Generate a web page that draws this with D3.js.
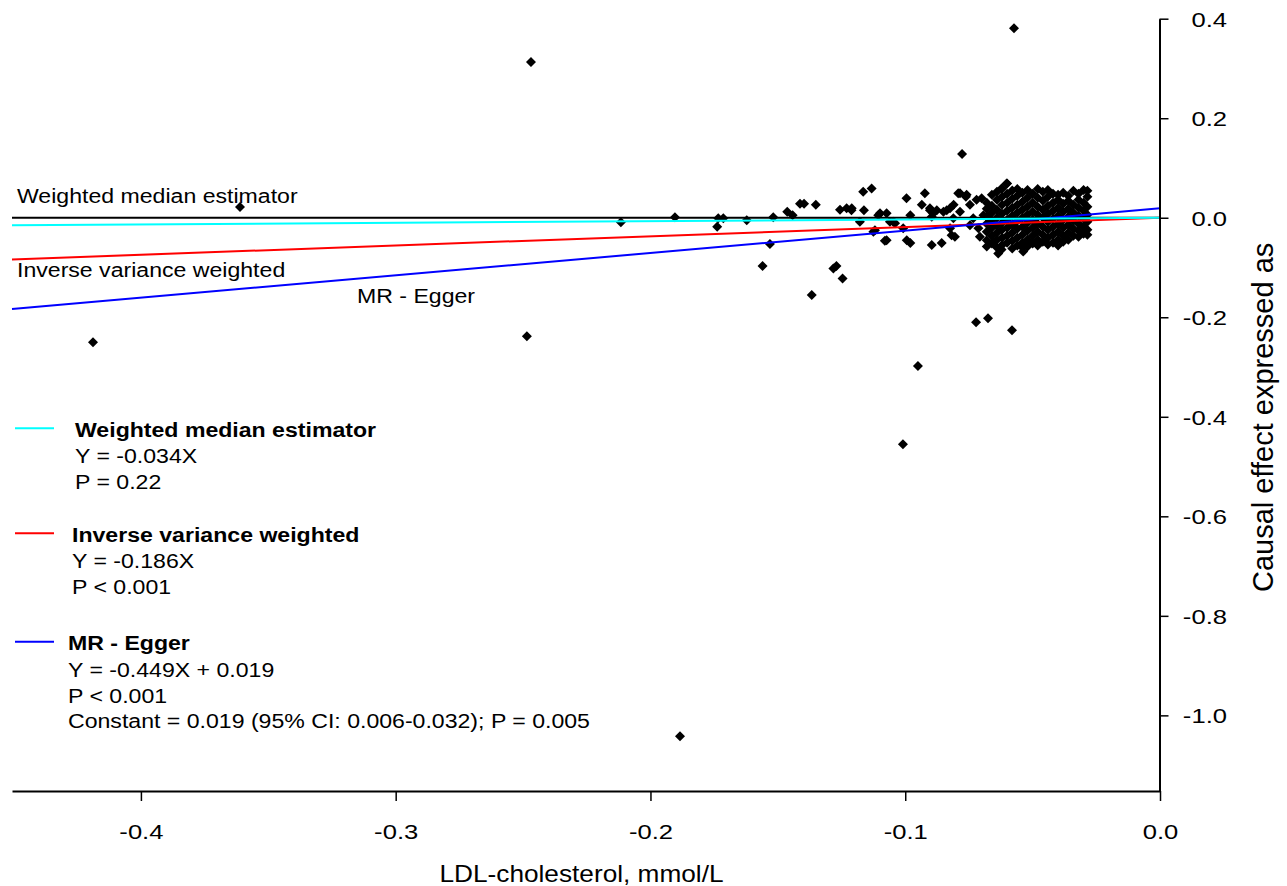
<!DOCTYPE html>
<html><head><meta charset="utf-8">
<script src="https://cdn.jsdelivr.net/npm/d3@7"></script>
<style>
body{margin:0;background:#fff}
svg{display:block}
text{font-family:Arial,"Liberation Sans",Helvetica,sans-serif;fill:#000}
</style>
</head><body>
<svg id="chart" width="1287" height="886"></svg>
<script>
// ---------------- data ----------------
const xTicks = [-0.4, -0.3, -0.2, -0.1, 0.0];
const yTicks = [0.4, 0.2, 0.0, -0.2, -0.4, -0.6, -0.8, -1.0];
const xTitle = "LDL-cholesterol, mmol/L";
const yTitle = "Causal effect expressed as";

const methodNames = ["Weighted median estimator", "Inverse variance weighted", "MR - Egger"];
const methodSlopes = [0.034, 0.186, 0.449];
const methodIntercepts = [0, 0, 0.019];
const methodColors = ["#00ffff", "#ff0000", "#0000ff"];
const methodEquations = ["Y = -0.034X", "Y = -0.186X", "Y = -0.449X + 0.019"];
const methodPValues = ["P = 0.22", "P < 0.001", "P < 0.001"];
const eggerConstant = "Constant = 0.019 (95% CI: 0.006-0.032); P = 0.005";

// instrument (SNP) estimates: [LDL effect, outcome effect]
const outlierPoints = [
  [-0.2469, 0.313], [-0.0573, 0.381], [-0.0777, 0.128], [-0.3611, 0.0215],
  [-0.4188, -0.250], [-0.2485, -0.238], [-0.0950, -0.298], [-0.1009, -0.455],
  [-0.1884, -1.042], [-0.0581, -0.226], [-0.0722, -0.210], [-0.0675, -0.202],
  [-0.2116, -0.009], [-0.1904, 0.001]
];
const midPoints = [
  [-0.1738, -0.018], [-0.1734, -0.001], [-0.1714, -0.001], [-0.1622, -0.005],
  [-0.1518, 0.001], [-0.1463, 0.012], [-0.1442, 0.005], [-0.1413, 0.028],
  [-0.1397, 0.028], [-0.1351, 0.026], [-0.1256, 0.016], [-0.1230, 0.019],
  [-0.1531, -0.053], [-0.1560, -0.097], [-0.1282, -0.102], [-0.1270, -0.097],
  [-0.1246, -0.122], [-0.1367, -0.155], [-0.1073, -0.045], [-0.1125, -0.028],
  [-0.0994, -0.045], [-0.0980, -0.051], [-0.0896, -0.055], [-0.0857, -0.051],
  [-0.0805, -0.038], [-0.1165, 0.052], [-0.1132, 0.059], [-0.0995, 0.039],
  [-0.0923, 0.049], [-0.0935, 0.026], [-0.0980, 0.005], [-0.1178, -0.008],
  [-0.1211, 0.015], [-0.1099, 0.009], [-0.1047, -0.008], [-0.0890, 0.009],
  [-0.0903, 0.015], [-0.0837, 0.015], [-0.0810, 0.026], [-0.0785, 0.049],
  [-0.0759, 0.046], [-0.1106, 0.005], [-0.1073, 0.009], [-0.1060, -0.008],
  [-0.1119, -0.025], [-0.1080, -0.046], [-0.1008, -0.021], [-0.0903, 0.019],
  [-0.0896, 0.002], [-0.0876, 0.015], [-0.0850, 0.012], [-0.0824, 0.019],
  [-0.0811, -0.001], [-0.0824, -0.021], [-0.0792, 0.049], [-0.0762, 0.042],
  [-0.0785, 0.012], [-0.0746, 0.026], [-0.0720, 0.036], [-0.0700, 0.039],
  [-0.0733, -0.001], [-0.0713, -0.021], [-0.0707, -0.038], [-0.0693, 0.005],
  [-0.0746, -0.015], [-0.1040, -0.011], [-0.1162, 0.015], [-0.1210, 0.019],
  [-0.0818, -0.035], [-0.0654, -0.048], [-0.0635, -0.072], [-0.0622, -0.064],
  [-0.0537, -0.068], [-0.0602, 0.069], [-0.0622, 0.059]
];
const clusterPoints = [
  [-0.0680, 0.030], [-0.0680, 0.018], [-0.0680, 0.002], [-0.0680, -0.012], [-0.0680, -0.028], [-0.0680, -0.045], [-0.0680, -0.058],
  [-0.0660, 0.046], [-0.0660, 0.024], [-0.0660, 0.010], [-0.0660, -0.006], [-0.0660, -0.020], [-0.0660, -0.036], [-0.0660, -0.052],
  [-0.0640, 0.052], [-0.0640, 0.036], [-0.0640, 0.016], [-0.0640, 0.000], [-0.0640, -0.016], [-0.0640, -0.030], [-0.0640, -0.044], [-0.0640, -0.060],
  [-0.0620, 0.059], [-0.0620, 0.042], [-0.0620, 0.026], [-0.0620, 0.008], [-0.0620, -0.010], [-0.0620, -0.024], [-0.0620, -0.040], [-0.0620, -0.055],
  [-0.0600, 0.069], [-0.0600, 0.048], [-0.0600, 0.030], [-0.0600, 0.014], [-0.0600, -0.004], [-0.0600, -0.020], [-0.0600, -0.036], [-0.0600, -0.050],
  [-0.0580, 0.055], [-0.0580, 0.038], [-0.0580, 0.020], [-0.0580, 0.004], [-0.0580, -0.014], [-0.0580, -0.030], [-0.0580, -0.046], [-0.0580, -0.062],
  [-0.0560, 0.058], [-0.0560, 0.044], [-0.0560, 0.026], [-0.0560, 0.010], [-0.0560, -0.006], [-0.0560, -0.022], [-0.0560, -0.040], [-0.0560, -0.056],
  [-0.0540, 0.050], [-0.0540, 0.032], [-0.0540, 0.016], [-0.0540, 0.000], [-0.0540, -0.018], [-0.0540, -0.034], [-0.0540, -0.050], [-0.0540, -0.060],
  [-0.0520, 0.056], [-0.0520, 0.040], [-0.0520, 0.022], [-0.0520, 0.006], [-0.0520, -0.010], [-0.0520, -0.026], [-0.0520, -0.044], [-0.0520, -0.058],
  [-0.0500, 0.048], [-0.0500, 0.030], [-0.0500, 0.012], [-0.0500, -0.004], [-0.0500, -0.020], [-0.0500, -0.036], [-0.0500, -0.052],
  [-0.0480, 0.058], [-0.0480, 0.040], [-0.0480, 0.022], [-0.0480, 0.006], [-0.0480, -0.012], [-0.0480, -0.028], [-0.0480, -0.044], [-0.0480, -0.056],
  [-0.0460, 0.052], [-0.0460, 0.034], [-0.0460, 0.016], [-0.0460, 0.000], [-0.0460, -0.018], [-0.0460, -0.034], [-0.0460, -0.048],
  [-0.0440, 0.056], [-0.0440, 0.042], [-0.0440, 0.024], [-0.0440, 0.008], [-0.0440, -0.008], [-0.0440, -0.024], [-0.0440, -0.040], [-0.0440, -0.054],
  [-0.0420, 0.048], [-0.0420, 0.030], [-0.0420, 0.014], [-0.0420, -0.002], [-0.0420, -0.018], [-0.0420, -0.034], [-0.0420, -0.050],
  [-0.0400, 0.046], [-0.0400, 0.036], [-0.0400, 0.020], [-0.0400, 0.004], [-0.0400, -0.012], [-0.0400, -0.028], [-0.0400, -0.044], [-0.0400, -0.056],
  [-0.0380, 0.050], [-0.0380, 0.028], [-0.0380, 0.012], [-0.0380, -0.004], [-0.0380, -0.020], [-0.0380, -0.036], [-0.0380, -0.048],
  [-0.0360, 0.044], [-0.0360, 0.034], [-0.0360, 0.018], [-0.0360, 0.002], [-0.0360, -0.014], [-0.0360, -0.030], [-0.0360, -0.044],
  [-0.0340, 0.054], [-0.0340, 0.026], [-0.0340, 0.010], [-0.0340, -0.006], [-0.0340, -0.022], [-0.0340, -0.036],
  [-0.0320, 0.048], [-0.0320, 0.036], [-0.0320, 0.020], [-0.0320, 0.004], [-0.0320, -0.012], [-0.0320, -0.026], [-0.0320, -0.038],
  [-0.0300, 0.056], [-0.0300, 0.030], [-0.0300, 0.014], [-0.0300, -0.002], [-0.0300, -0.018], [-0.0300, -0.032],
  [-0.0285, 0.054], [-0.0285, 0.042], [-0.0285, 0.022], [-0.0285, 0.006], [-0.0285, -0.008], [-0.0285, -0.024], [-0.0285, -0.034]
];

// ---------------- drawing ----------------
const svg = d3.select("#chart");
const x = d3.scaleLinear().domain([-0.4506, 0]).range([12, 1160]);
const y = d3.scaleLinear().domain([-1.152, 0.4]).range([791, 18.7]);
const fmt = d => (Math.abs(d) < 1e-9 ? 0 : d).toFixed(1);

function label(g, str, px, py, size, sx, opts = {}) {
  return g.append("text")
    .attr("transform", `translate(${px},${py}) scale(${sx},1)`)
    .attr("text-anchor", opts.anchor || "start")
    .style("font-size", size + "px")
    .style("font-weight", opts.bold ? "bold" : "normal")
    .text(str);
}

// zero reference line
svg.append("line")
  .attr("x1", x(x.domain()[0])).attr("x2", x(0))
  .attr("y1", y(0)).attr("y2", y(0))
  .attr("stroke", "#000").attr("stroke-width", 2);

// points
const allPoints = outlierPoints.concat(midPoints, clusterPoints);
const diamond = d3.symbol().type(d3.symbolSquare).size(50);
svg.append("g").selectAll("path").data(allPoints).join("path")
  .attr("d", diamond)
  .attr("transform", d => `translate(${x(d[0])},${y(d[1])}) rotate(45)`)
  .attr("fill", "#000");

// regression lines
const lineGen = d3.line().x(d => x(d[0])).y(d => y(d[1]));
const drawOrder = [1, 2, 0];
drawOrder.forEach(i => {
  const xs = [x.domain()[0], 0];
  svg.append("path")
    .attr("d", lineGen(xs.map(v => [v, methodSlopes[i] * v + methodIntercepts[i]])))
    .attr("fill", "none").attr("stroke", methodColors[i]).attr("stroke-width", 2);
});

// axes
const xAxis = svg.append("g").attr("transform", "translate(0,791)")
  .call(d3.axisBottom(x).tickValues(xTicks).tickFormat(fmt).tickSize(10).tickSizeOuter(0));
xAxis.select(".domain").attr("stroke", "#000").attr("stroke-width", 2);
xAxis.selectAll(".tick line").attr("stroke", "#000").attr("stroke-width", 1.5);
xAxis.selectAll(".tick text").attr("y", null).attr("dy", null)
  .attr("transform", "translate(0,48) scale(1.22,1)")
  .attr("fill", "#000").style("font-size", "21px").attr("font-family", null);

const yAxis = svg.append("g").attr("transform", "translate(1159.5,0)")
  .call(d3.axisRight(y).tickValues(yTicks).tickFormat(fmt).tickSize(9).tickSizeOuter(0));
yAxis.select(".domain").attr("stroke", "#000").attr("stroke-width", 2);
yAxis.selectAll(".tick line").attr("stroke", "#000").attr("stroke-width", 1.5);
yAxis.selectAll(".tick text").attr("x", null).attr("dy", null)
  .attr("text-anchor", "end")
  .attr("transform", "translate(67.5,7.5) scale(1.22,1)")
  .attr("fill", "#000").style("font-size", "21px").attr("font-family", null);

// axis titles
label(svg, xTitle, 581.5, 881.7, 23, 1.14, {anchor: "middle"});
svg.append("text")
  .attr("transform", "translate(1273,592) rotate(-90)")
  .attr("text-anchor", "start")
  .style("font-size", "29px")
  .text(yTitle);

// in-plot line labels
label(svg, methodNames[0], 17, 203.3, 21, 1.1);
label(svg, methodNames[1], 17, 276.7, 21, 1.1);
label(svg, methodNames[2], 357, 303.3, 21, 1.1);

// legend
const legendRows = [428.3, 533.3, 641.7];
const legendTextX = [75, 72, 68];
methodNames.forEach((name, i) => {
  const ly = legendRows[i];
  svg.append("line").attr("x1", 15).attr("x2", 54).attr("y1", ly).attr("y2", ly)
    .attr("stroke", methodColors[i]).attr("stroke-width", 2);
  label(svg, name, legendTextX[i], ly + 8.4, 21, 1.1, {bold: true});
  label(svg, methodEquations[i], legendTextX[i], ly + 35, 21, 1.1);
  label(svg, methodPValues[i], legendTextX[i], ly + 61, 21, 1.1);
  if (i === 2) label(svg, eggerConstant, legendTextX[i], ly + 86.6, 21, 1.1);
});
</script>
</body></html>
